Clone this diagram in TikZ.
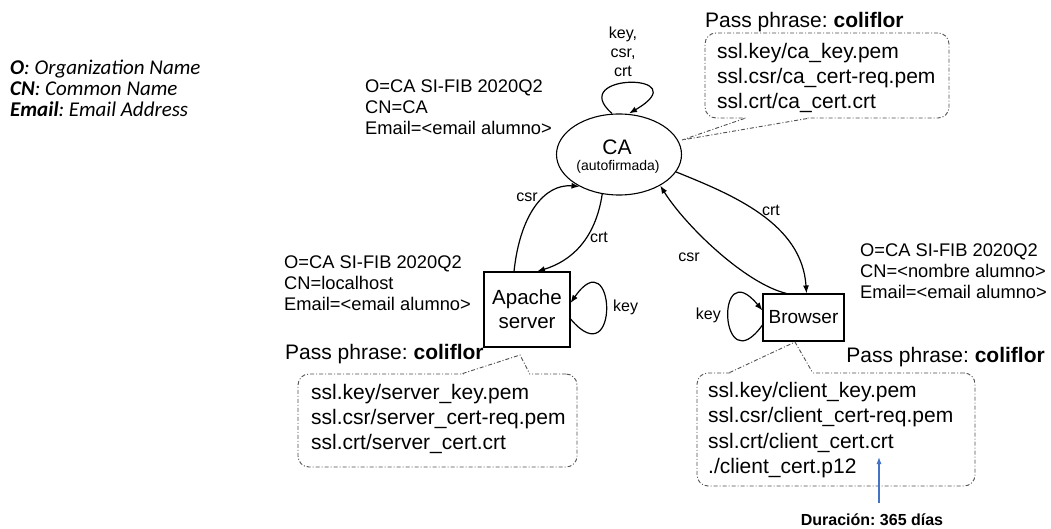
\documentclass[tikz,border=0pt]{standalone}
\usepackage{fontspec}
\setmainfont{Liberation Sans}
\newfontfamily\legendfont{Carlito}
\usetikzlibrary{arrows.meta,shapes.geometric}
\definecolor{durblue}{RGB}{68,114,196}
\definecolor{callgray}{RGB}{80,80,80}
\frenchspacing
\begin{document}
\begin{tikzpicture}[x=1pt,y=-1pt,
  edge/.style={line width=1.2pt,-{Latex[length=8pt,width=6pt]}},
  statebox/.style={draw,line width=1.1pt,inner sep=0pt,align=center,font=\fontsize{20.5}{24}\selectfont},
  lbl/.style={inner sep=0pt,align=center,font=\fontsize{16}{19}\selectfont},
  info/.style={inner sep=0pt,align=left,font=\fontsize{18.3}{21}\selectfont},
  callbox/.style={draw=callgray,line width=0.9pt,dash pattern=on 4pt off 2pt on 1pt off 2pt,rounded corners=11pt,inner sep=0pt},
  calltail/.style={draw=callgray,line width=0.9pt,dash pattern=on 4pt off 2pt on 1pt off 2pt},
  files/.style={inner sep=0pt,align=left,font=\fontsize{21}{25.3}\selectfont},
  pass/.style={inner sep=0pt,font=\fontsize{21}{25}\selectfont},
  legend/.style={inner sep=0pt,align=left,font=\legendfont\fontsize{21}{21}\selectfont},
]
\fill[white] (0,0) rectangle (1051,529);
\useasboundingbox (0,0) rectangle (1051,529);

% legend
\node[legend,anchor=west] (legend) at (10,88)
  {\textbf{\textit{O}}\textit{: Organization Name}\\
   \textbf{\textit{CN}}\textit{: Common Name}\\
   \textbf{\textit{Email}}\textit{: Email Address}};

% states
\node[ellipse,draw,line width=1.1pt,minimum width=125pt,minimum height=81pt,inner sep=0pt] (ca) at (619,154.5) {};
\node[inner sep=0pt,font=\fontsize{21}{24}\selectfont] (catext) at (617,147) {CA};
\node[inner sep=0pt,font=\fontsize{14}{16}\selectfont] (caauto) at (618,167) {(autofirmada)};
\node[statebox,minimum width=86pt,minimum height=75pt] (apache) at (527,309.5) {Apache\\server};
\node[statebox,minimum width=81pt,minimum height=47pt,font=\fontsize{19}{22}\selectfont] (browser) at (803.5,317.5) {Browser};

% info labels
\node[info,anchor=west] (cainfo) at (365,107) {O=CA SI-FIB 2020Q2\\CN=CA\\Email=<email alumno>};
\node[info,anchor=west] (apinfo) at (284,283.5) {O=CA SI-FIB 2020Q2\\CN=localhost\\Email=<email alumno>};
\node[info,anchor=west] (brinfo) at (860,271.5) {O=CA SI-FIB 2020Q2\\CN=<nombre alumno>\\Email=<email alumno>};

% edges
\draw[edge] ([xshift=-7pt]ca.north) .. controls +(-47,-41) and +(71,-41) .. ([xshift=10pt]ca.north);
\node[lbl] (caloop) at (623,52) {key,\\csr,\\crt};

\draw[edge] ([xshift=-13pt]apache.north) .. controls +(6,-57) and +(-35,-3) .. (ca.219);
\node[lbl] (csr1) at (527,197) {csr};
\draw[edge] (ca.247) .. controls +(-7,46.5) and +(33,-10) .. ([xshift=10pt]apache.north);
\node[lbl] (crt1) at (599,237) {crt};

\draw[edge] ([xshift=-17pt]browser.north) .. controls +(-41.5,-10) and +(25,40) .. (ca.323);
\node[lbl] (csr2) at (689,257) {csr};
\draw[edge] (ca.343) .. controls +(57,23) and +(-4.5,-70) .. ([xshift=3pt]browser.north);
\node[lbl] (crt2) at (771,210) {crt};

\draw[edge] ([yshift=-9.5pt]apache.east) .. controls +(50,59) and +(45,-65) .. ([yshift=6.5pt]apache.east);
\node[lbl,anchor=west] (key1) at (613,307) {key};
\draw[edge] ([yshift=-7.5pt]browser.west) .. controls +(-43,60) and +(-48,-58.5) .. ([yshift=7pt]browser.west);
\node[lbl,anchor=east] (key2) at (721,315) {key};

% CA callout
\node[callbox,minimum width=244pt,minimum height=85pt] (cabox) at (827,75.5) {};
\coordinate (catip) at (682,140);
\fill[white] ([xshift=41pt,yshift=-2pt]cabox.south west) rectangle ([xshift=102pt,yshift=2pt]cabox.south west);
\draw[calltail] ([xshift=40pt]cabox.south west) -- (catip) -- ([xshift=103pt]cabox.south west);
\node[files,anchor=west] (cafiles) at (717,78) {ssl.key/ca\_key.pem\\ssl.csr/ca\_cert-req.pem\\ssl.crt/ca\_cert.crt};
\node[pass,anchor=west] (capass) at (705,22) {Pass phrase: \textbf{coliflor}};

% server callout
\node[callbox,minimum width=279pt,minimum height=93pt] (svbox) at (437.5,420.5) {};
\coordinate (svtip) at (520,355);
\fill[white] ([xshift=166pt,yshift=-2pt]svbox.north west) rectangle ([xshift=231pt,yshift=2pt]svbox.north west);
\draw[calltail] ([xshift=165pt]svbox.north west) -- (svtip) -- ([xshift=232pt]svbox.north west);
\node[files,anchor=west] (svfiles) at (311,419) {ssl.key/server\_key.pem\\ssl.csr/server\_cert-req.pem\\ssl.crt/server\_cert.crt};
\node[pass,anchor=west] (svpass) at (285,354) {Pass phrase: \textbf{coliflor}};

% browser callout
\node[callbox,minimum width=278pt,minimum height=113pt] (brbox) at (836,429.5) {};
\coordinate (brtip) at (795,342);
\fill[white] ([xshift=34pt,yshift=-2pt]brbox.north west) rectangle ([xshift=115pt,yshift=2pt]brbox.north west);
\draw[calltail] ([xshift=33pt]brbox.north west) -- (brtip) -- ([xshift=116pt]brbox.north west);
\node[files,anchor=west] (brfiles) at (708,430) {ssl.key/client\_key.pem\\ssl.csr/client\_cert-req.pem\\ssl.crt/client\_cert.crt\\./client\_cert.p12};
\node[pass,anchor=east] (brpass) at (1045,357) {Pass phrase: \textbf{coliflor}};

% duration
\node[inner sep=0pt,font=\bfseries\fontsize{16}{19}\selectfont] (dur) at (872,519.5) {Duración: 365 días};
\coordinate (durbase) at (879,503);
\coordinate (durtip) at (879,457);
\draw[durblue,line width=1.1pt,-{Latex[length=7pt,width=5pt]}] (durbase) -- (durtip);
\end{tikzpicture}
\end{document}
